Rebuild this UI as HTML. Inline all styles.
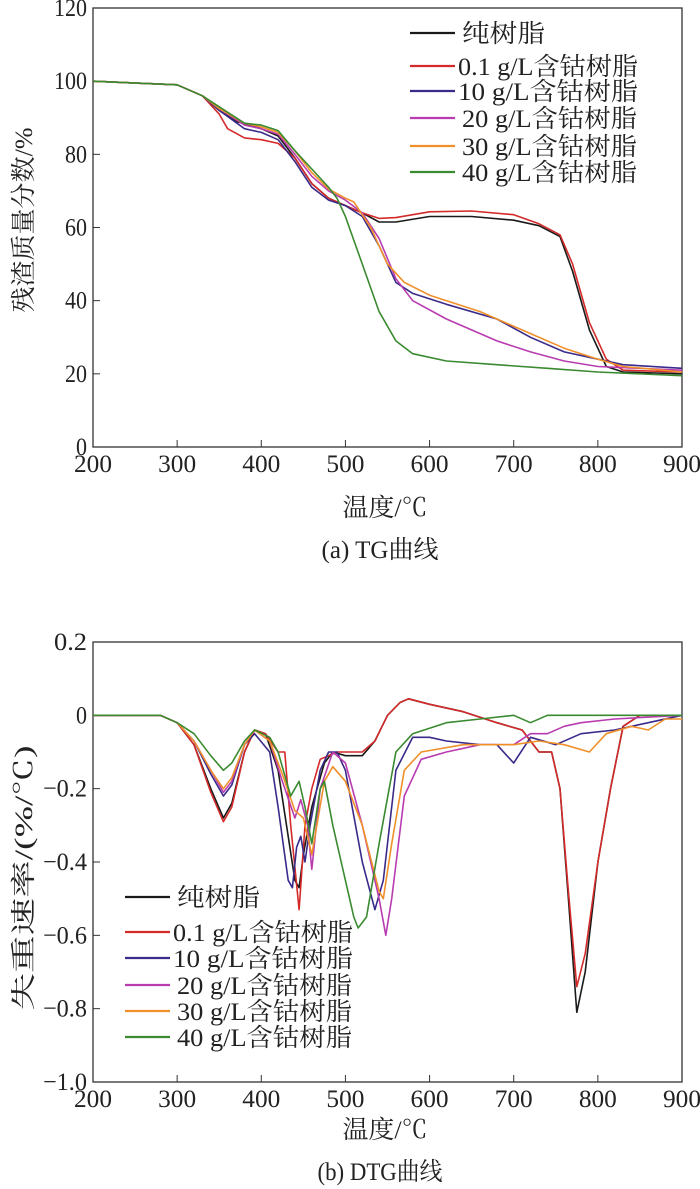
<!DOCTYPE html>
<html><head><meta charset="utf-8"><style>
html,body{margin:0;padding:0;background:#fff;width:700px;height:1189px;overflow:hidden}
svg text{font-family:"Liberation Serif","Noto Serif CJK SC",serif;fill:#222}
</style></head><body>
<svg id="chart" width="700" height="1189" xmlns="http://www.w3.org/2000/svg"></svg>
<script>
const xTicks=[200,300,400,500,600,700,800,900];
const tgTicks=[0,20,40,60,80,100,120];
const dtgTicks=[0.2,0,-0.2,-0.4,-0.6,-0.8,-1.0];
const dtgTickLabels=["0.2","0","\u22120.2","\u22120.4","\u22120.6","\u22120.8","\u22121.0"];
const seriesNames=["纯树脂","0.1  g/L含钴树脂","10  g/L含钴树脂","20 g/L含钴树脂","30 g/L含钴树脂","40 g/L含钴树脂"];
const seriesColors=["#1a1a1a","#d42a2a","#3a2a8a","#b83cb0","#f0902a","#3a8a30"];
const tgBlackT=[200,300,330,350,370,400,420,440,460,480,500,520,540,560,600,650,700,730,755,770,790,810,830,900];
const tgBlackV=[100,99,96,92,89,87,85,79,72,68,66,64,61.5,61.5,63,63,62,60.5,57.5,48,32,22,20.5,20];
const tgRedT=[200,300,330,350,360,380,400,420,440,460,480,500,520,540,560,600,650,700,730,755,770,790,810,830,900];
const tgRedV=[100,99,96,91,87,84.5,84,83,79,72,68,66,64,62.5,62.7,64.3,64.5,63.5,61,58,50,34,24,21,20.5];
const tgBlueT=[200,300,330,350,380,400,420,440,460,480,500,520,540,560,580,620,680,720,760,800,830,900];
const tgBlueV=[100,99,96,92,87,86,84,78,71,67.5,66,63,55,45,42,39,35,30,26,24,22.5,21.5];
const tgMagT=[200,300,330,350,380,400,420,440,460,480,500,520,540,560,580,620,680,720,760,800,900];
const tgMagV=[100,99,96,92.5,88,87,85.5,80,74,70,67.5,64,57,46,40,35,29,26,23.5,22,21];
const tgOrT=[200,300,330,350,380,400,420,440,460,480,500,510,530,550,570,600,660,720,760,800,830,900];
const tgOrV=[100,99,96,92.5,88.5,87.5,86,81,75,70.5,68,67,60,50,45,41.5,37,31,27,24,22,20.5];
const tgGrT=[200,300,330,350,380,400,420,440,460,480,490,500,520,540,560,580,620,680,740,800,900];
const tgGrV=[100,99,96,93,88.5,88,86.5,81,76,71,68,63,50,37,29,25.5,23.5,22.5,21.5,20.5,19.5];
const dBlackT=[200,280,300,320,340,355,365,380,392,405,420,430,440,445,450,460,475,485,500,520,535,550,565,575,600,640,680,710,720,730,745,755,765,775,785,800,815,830,850,900];
const dBlackV=[0,0,-0.02,-0.08,-0.2,-0.28,-0.24,-0.1,-0.04,-0.05,-0.15,-0.3,-0.45,-0.47,-0.38,-0.25,-0.13,-0.1,-0.11,-0.11,-0.07,0,0.035,0.045,0.03,0.01,-0.02,-0.04,-0.07,-0.1,-0.1,-0.2,-0.5,-0.81,-0.7,-0.4,-0.2,-0.03,0,0];
const dRedT=[200,280,300,320,340,355,365,380,392,405,420,428,435,445,452,460,470,490,500,520,535,550,565,575,600,640,680,710,720,730,745,755,765,775,785,800,815,830,850,900];
const dRedV=[0,0,-0.02,-0.08,-0.21,-0.29,-0.25,-0.1,-0.04,-0.05,-0.1,-0.1,-0.3,-0.53,-0.3,-0.2,-0.12,-0.1,-0.1,-0.1,-0.07,0,0.035,0.045,0.03,0.01,-0.02,-0.04,-0.07,-0.1,-0.1,-0.2,-0.48,-0.74,-0.65,-0.4,-0.2,-0.03,0,0];
const dBlueT=[200,280,300,320,340,355,365,380,392,410,420,432,437,442,447,452,458,470,480,490,500,520,535,545,560,580,600,620,660,680,700,720,750,780,820,860,900];
const dBlueV=[0,0,-0.02,-0.07,-0.16,-0.22,-0.19,-0.08,-0.05,-0.1,-0.25,-0.45,-0.47,-0.36,-0.33,-0.4,-0.3,-0.15,-0.1,-0.1,-0.15,-0.4,-0.53,-0.45,-0.15,-0.06,-0.06,-0.07,-0.08,-0.08,-0.13,-0.06,-0.08,-0.05,-0.04,-0.02,0];
const dMagT=[200,280,300,320,340,355,365,380,392,410,425,440,447,455,460,470,485,500,520,540,548,555,570,590,620,660,700,720,740,760,780,820,900];
const dMagV=[0,0,-0.02,-0.07,-0.15,-0.21,-0.18,-0.08,-0.04,-0.07,-0.18,-0.28,-0.23,-0.3,-0.42,-0.2,-0.1,-0.13,-0.3,-0.5,-0.6,-0.5,-0.22,-0.12,-0.1,-0.08,-0.08,-0.05,-0.05,-0.03,-0.02,-0.01,0];
const dOrT=[200,280,300,320,340,355,365,380,392,410,425,440,450,460,475,485,500,520,540,545,555,570,590,640,700,730,760,790,810,840,860,880,900];
const dOrV=[0,0,-0.02,-0.07,-0.15,-0.2,-0.17,-0.08,-0.04,-0.07,-0.16,-0.26,-0.28,-0.38,-0.18,-0.14,-0.18,-0.3,-0.48,-0.5,-0.35,-0.15,-0.1,-0.08,-0.08,-0.07,-0.08,-0.1,-0.05,-0.03,-0.04,-0.01,-0.01];
const dGrT=[200,280,300,320,340,355,365,380,392,410,420,435,445,452,460,470,475,485,495,510,515,525,540,560,580,620,660,700,720,740,900];
const dGrV=[0,0,-0.02,-0.05,-0.11,-0.15,-0.13,-0.07,-0.04,-0.06,-0.1,-0.22,-0.18,-0.25,-0.35,-0.2,-0.18,-0.3,-0.4,-0.55,-0.58,-0.55,-0.35,-0.1,-0.05,-0.02,-0.01,0,-0.02,0,0];

const svg=document.getElementById('chart');
const NS='http://www.w3.org/2000/svg';
function mk(tag,attrs,parent){const e=document.createElementNS(NS,tag);for(const k in attrs)e.setAttribute(k,attrs[k]);(parent||svg).appendChild(e);return e;}
const X0=93,X1=682;
function xs(t){return X0+(t-200)/700*(X1-X0);}

function drawPanel(cfg){
  const g=mk('g',{});
  
  
  const ys=v=>cfg.yTop+(cfg.vMax-v)/(cfg.vMax-cfg.vMin)*(cfg.yBot-cfg.yTop);
  const frame=mk('rect',{x:X0,y:cfg.yTop,width:X1-X0,height:cfg.yBot-cfg.yTop,fill:'none',stroke:'#333','stroke-width':1.3},g);
  
  
  xTicks.forEach(t=>{
    mk('line',{x1:xs(t),x2:xs(t),y1:cfg.yBot,y2:cfg.yBot-7,stroke:'#333','stroke-width':1},g);
    const tx=mk('text',{x:xs(t),y:cfg.yBot+25,'text-anchor':'middle','font-size':25,textLength:38,lengthAdjust:'spacingAndGlyphs'},g);
    tx.textContent=t;
    
    
  });
  cfg.yTicks.forEach((v,i)=>{
    mk('line',{x1:X0,x2:X0+7,y1:ys(v),y2:ys(v),stroke:'#333','stroke-width':1},g);
    const lab=cfg.yLabels[i];
    const tx=mk('text',{x:X0-6,y:ys(v)+8,'text-anchor':'end','font-size':25,textLength:lab.length*11,lengthAdjust:'spacingAndGlyphs'},g);
    tx.textContent=lab;
    
    
  });
  cfg.series.forEach((s,i)=>{
    const d=s[0].map((t,j)=>(j?'L':'M')+xs(t).toFixed(1)+','+ys(s[1][j]).toFixed(1)).join(' ');
    const p=mk('path',{d:d,fill:'none',stroke:seriesColors[i],'stroke-width':1.6,'stroke-linejoin':'round'},g);
    
    
  });
  seriesNames.forEach((n,i)=>{
    const y=cfg.legY[i];
    const lg=mk('g',{},g);
    
    
    mk('line',{x1:cfg.legX,x2:cfg.legX+45,y1:y,y2:y,stroke:seriesColors[i],'stroke-width':2.2},lg);
    const tx=mk('text',{x:cfg.legX+(i===0?52:i<3?48:52),y:y+9,'font-size':25,textLength:(i===0?83:i<3?180:175),lengthAdjust:'spacingAndGlyphs'},lg);
    tx.textContent=n;
  });
  const xt=mk('text',{x:385,y:cfg.xTitleY,'text-anchor':'middle','font-size':25,textLength:85,lengthAdjust:'spacingAndGlyphs'},g);
  xt.textContent='温度/℃';
  
  
  const yt=mk('text',{x:0,y:0,'text-anchor':'middle','font-size':25,textLength:cfg.yTitleLen,lengthAdjust:'spacingAndGlyphs',transform:'translate(32,'+cfg.yTitleC+') rotate(-90)'},g);
  yt.textContent=cfg.yTitle;
  
  
  const cap=mk('text',{x:380,y:cfg.capY,'text-anchor':'middle','font-size':25,textLength:cfg.capLen,lengthAdjust:'spacingAndGlyphs'},g);
  cap.textContent=cfg.caption;
  
  
}

drawPanel({name:'tg-chart',yTop:8,yBot:447,vMax:120,vMin:0,yTicks:tgTicks,yLabels:tgTicks.map(String),
  series:[[tgBlackT,tgBlackV],[tgRedT,tgRedV],[tgBlueT,tgBlueV],[tgMagT,tgMagV],[tgOrT,tgOrV],[tgGrT,tgGrV]],
  legX:410,legY:[33,66,91,118,146,172],xTitleY:516,capY:558,yTitleC:220,yTitleLen:185,yTitle:'残渣质量分数/%',caption:'(a) TG曲线',capLen:117});
drawPanel({name:'dtg-chart',yTop:642,yBot:1082,vMax:0.2,vMin:-1.0,yTicks:dtgTicks,yLabels:dtgTickLabels,
  series:[[dBlackT,dBlackV],[dRedT,dRedV],[dBlueT,dBlueV],[dMagT,dMagV],[dOrT,dOrV],[dGrT,dGrV]],
  legX:125,legY:[897,932,958,985,1011,1037],xTitleY:1138,capY:1180,yTitleC:878,yTitleLen:265,yTitle:'失重速率/(%/℃)',caption:'(b) DTG曲线',capLen:125});
</script>
</body></html>
